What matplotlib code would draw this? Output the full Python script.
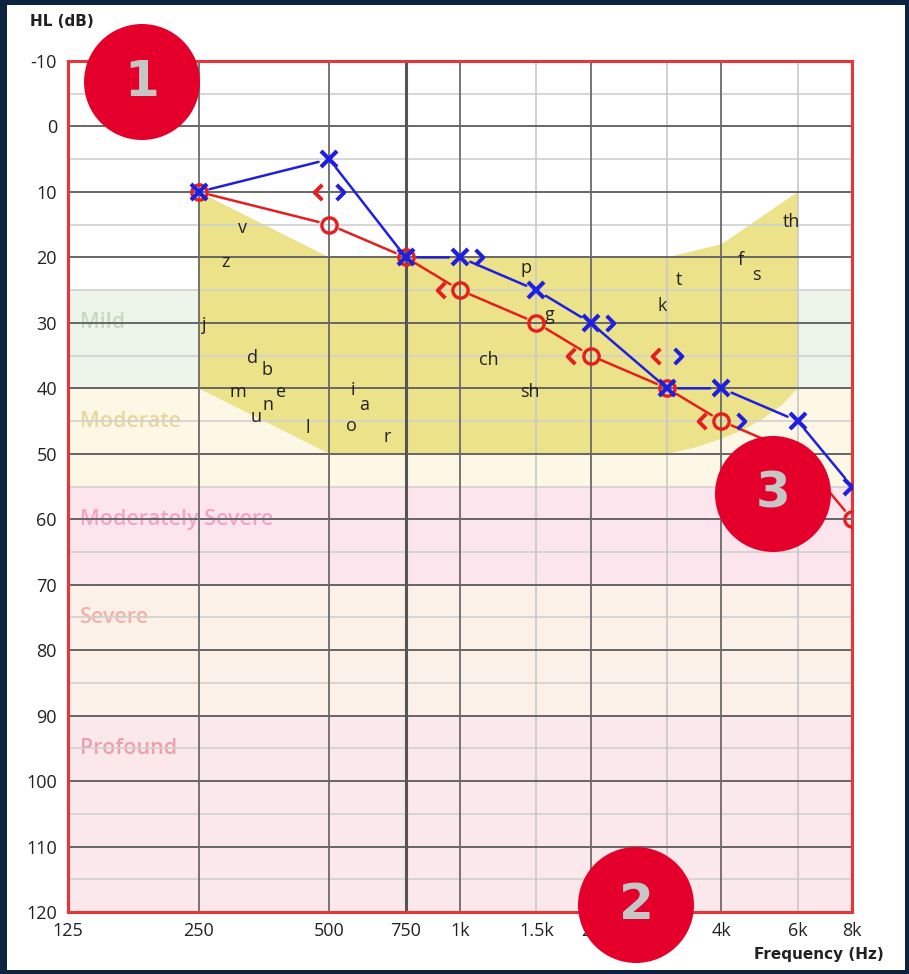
import numpy as np
import matplotlib.pyplot as plt
from matplotlib.patches import Rectangle, Ellipse
from matplotlib.ticker import FixedLocator, NullLocator
from matplotlib.transforms import offset_copy

plt.rcParams["axes.unicode_minus"] = False

# audiogram data
freqs = [250, 500, 750, 1000, 1500, 2000, 3000, 4000, 6000, 8000]
right_ac = [10, 15, 20, 25, 30, 35, 40, 45, 50, 60]   # red O
left_ac = [10, 5, 20, 20, 25, 30, 40, 40, 45, 55]     # blue X

bc_freqs = [500, 1000, 2000, 3000, 4000]
right_bc = [10, 25, 35, 35, 45]   # red <
left_bc = [10, 20, 30, 35, 45]    # blue >

xticks = [125, 250, 500, 750, 1000, 1500, 2000, 3000, 4000, 6000, 8000]
xticklabels = ["125", "250", "500", "750", "1k", "1.5k", "2k", "3k", "4k", "6k", "8k"]
yticks = list(range(-10, 121, 10))

# hearing loss bands
band_names = ["Mild", "Moderate", "Moderately Severe", "Severe", "Profound"]
band_lo = [25, 40, 55, 70, 90]
band_hi = [40, 55, 70, 90, 120]
band_fill = ["#edf5ea", "#fdf8e5", "#fde5ee", "#fcf1e8", "#fbe8ea"]
band_text = ["#c3dbbf", "#e9d69c", "#f4a3c4", "#f4b0a6", "#f09eaa"]
band_label_db = [30, 45, 60, 75, 95]

# speech banana outline
banana_f = [250, 500, 3000, 4000, 6000, 6000, 5500, 5000, 4500, 4000, 3500, 3000, 500, 250]
banana_db = [10, 20, 20, 18, 10, 40, 42.6, 44.6, 46.3, 47.7, 49.0, 50, 50, 40]

# phonemes
phon = ["v", "z", "j", "d", "b", "m", "e", "n", "u", "l", "i", "a", "o", "r",
        "p", "g", "ch", "sh", "t", "k", "f", "s", "th"]
phon_f = [316, 289, 257, 332, 359, 308, 387, 361, 339, 446, 567, 601, 563, 679,
          1417, 1611, 1166, 1449, 3193, 2918, 4437, 4827, 5814]
phon_db = [15.5, 20.7, 30.4, 35.3, 37.2, 40.6, 40.6, 42.6, 44.4, 46.1, 40.3, 42.6, 45.7, 47.5,
           21.6, 28.8, 35.6, 40.5, 23.5, 27.5, 20.4, 22.7, 14.6]

W, H = 909, 974
fig = plt.figure(figsize=(W / 100, H / 100), dpi=100, facecolor="#0c2340")
fig.add_artist(Rectangle((7 / W, 4 / H), 898 / W, 965 / H, transform=fig.transFigure,
                         facecolor="white", edgecolor="none", zorder=0))

ax = fig.add_axes([68 / W, 1 - 912 / H, 784 / W, 851 / H])
ax.set_xscale("log", base=2)
ax.set_xlim(125, 8000)
ax.set_ylim(120, -10)
ax.set_facecolor("white")

for lo, hi, c in zip(band_lo, band_hi, band_fill):
    ax.axhspan(lo, hi, color=c, zorder=0, lw=0)
for name, y, c in zip(band_names, band_label_db, band_text):
    ax.text(133, y, name, color=c, fontsize=15.5, va="center", ha="left",
            family="Open Sans", fontweight="semibold", zorder=0.6)

ax.fill(banana_f, banana_db, color="#ebe28a", lw=0, zorder=0.5)

# grid
for y in range(-5, 120, 10):
    ax.axhline(y, color="#d0d0d0", lw=1.2, zorder=1)
for y in range(0, 120, 10):
    ax.axhline(y, color="#666666", lw=1.4, zorder=1.1)
for f in [1500, 3000, 6000]:
    ax.axvline(f, color="#c8c8c8", lw=1.2, zorder=1)
for f in [250, 500, 1000, 2000, 4000]:
    ax.axvline(f, color="#6a6a6a", lw=1.3, zorder=1.1)
ax.axvline(750, color="#555555", lw=2.2, zorder=1.1)

for s in ax.spines.values():
    s.set_color("#e8353a")
    s.set_linewidth(2.2)

ax.xaxis.set_major_locator(FixedLocator(xticks))
ax.xaxis.set_minor_locator(NullLocator())
ax.set_xticklabels(xticklabels)
ax.set_yticks(yticks)
ax.tick_params(length=0, labelsize=13, labelcolor="#222222")
ax.tick_params(axis="y", pad=8)
ax.tick_params(axis="x", pad=7)
for lab in ax.get_xticklabels() + ax.get_yticklabels():
    lab.set_family("Open Sans")

# phonemes
for t, f, d in zip(phon, phon_f, phon_db):
    ax.text(f, d, t, fontsize=13, ha="center", va="center", color="#222222",
            family="Open Sans", zorder=2)


def link(xs, ys, color):
    for i in range(len(xs) - 1):
        ax.annotate("", xy=(xs[i + 1], ys[i + 1]), xytext=(xs[i], ys[i]),
                    arrowprops=dict(arrowstyle="-", color=color, lw=1.8,
                                    shrinkA=8, shrinkB=8), zorder=3)


link(freqs, right_ac, "#e61e1e")
link(freqs, left_ac, "#1f1fe0")
ax.plot(freqs, right_ac, ls="none", marker="o", ms=11, mfc="none", mec="#e61e1e",
        mew=2.4, zorder=4)
ax.plot(freqs, left_ac, ls="none", marker="x", ms=11, mec="#1f1fe0", mew=3, zorder=5)

# bone conduction symbols, chevrons beside the air markers
lt = [(0.5, 1), (-0.5, 0), (0.5, -1)]
gt = [(-0.5, 1), (0.5, 0), (-0.5, -1)]
for f, r, l in zip(bc_freqs, right_bc, left_bc):
    i = freqs.index(f)
    near_r = r in (right_ac[i], left_ac[i])
    near_l = l in (right_ac[i], left_ac[i])
    tr_r = offset_copy(ax.transData, fig=fig, x=-14 if near_r else -8, y=0, units="points")
    tr_l = offset_copy(ax.transData, fig=fig, x=14 if near_l else 8, y=0, units="points")
    ax.plot([f], [r], marker=lt, ms=11, mfc="none", mec="#e61e1e", mew=2.8,
            ls="none", transform=tr_r, zorder=5)
    ax.plot([f], [l], marker=gt, ms=11, mfc="none", mec="#1f1fe0", mew=2.8,
            ls="none", transform=tr_l, zorder=5)

fig.text(30 / W, 1 - 22 / H, "HL (dB)", fontsize=11, fontweight="bold", color="#222222",
         va="center", ha="left")
fig.text(884 / W, 1 - 955 / H, "Frequency (Hz)", fontsize=11, fontweight="bold",
         color="#222222", va="center", ha="right")

# numbered callouts
for n, cx, cy in [("1", 142, 82), ("2", 636, 905), ("3", 773, 494)]:
    fig.add_artist(Ellipse((cx / W, 1 - cy / H), 116 / W, 116 / H, transform=fig.transFigure,
                           facecolor="#e4002b", edgecolor="none", zorder=10))
    fig.text(cx / W, 1 - cy / H, n, fontsize=36, fontweight="bold", family="DejaVu Sans",
             color="#c6c6c6", ha="center", va="center", zorder=11)

fig.savefig("out.png", dpi=100, facecolor=fig.get_facecolor())
